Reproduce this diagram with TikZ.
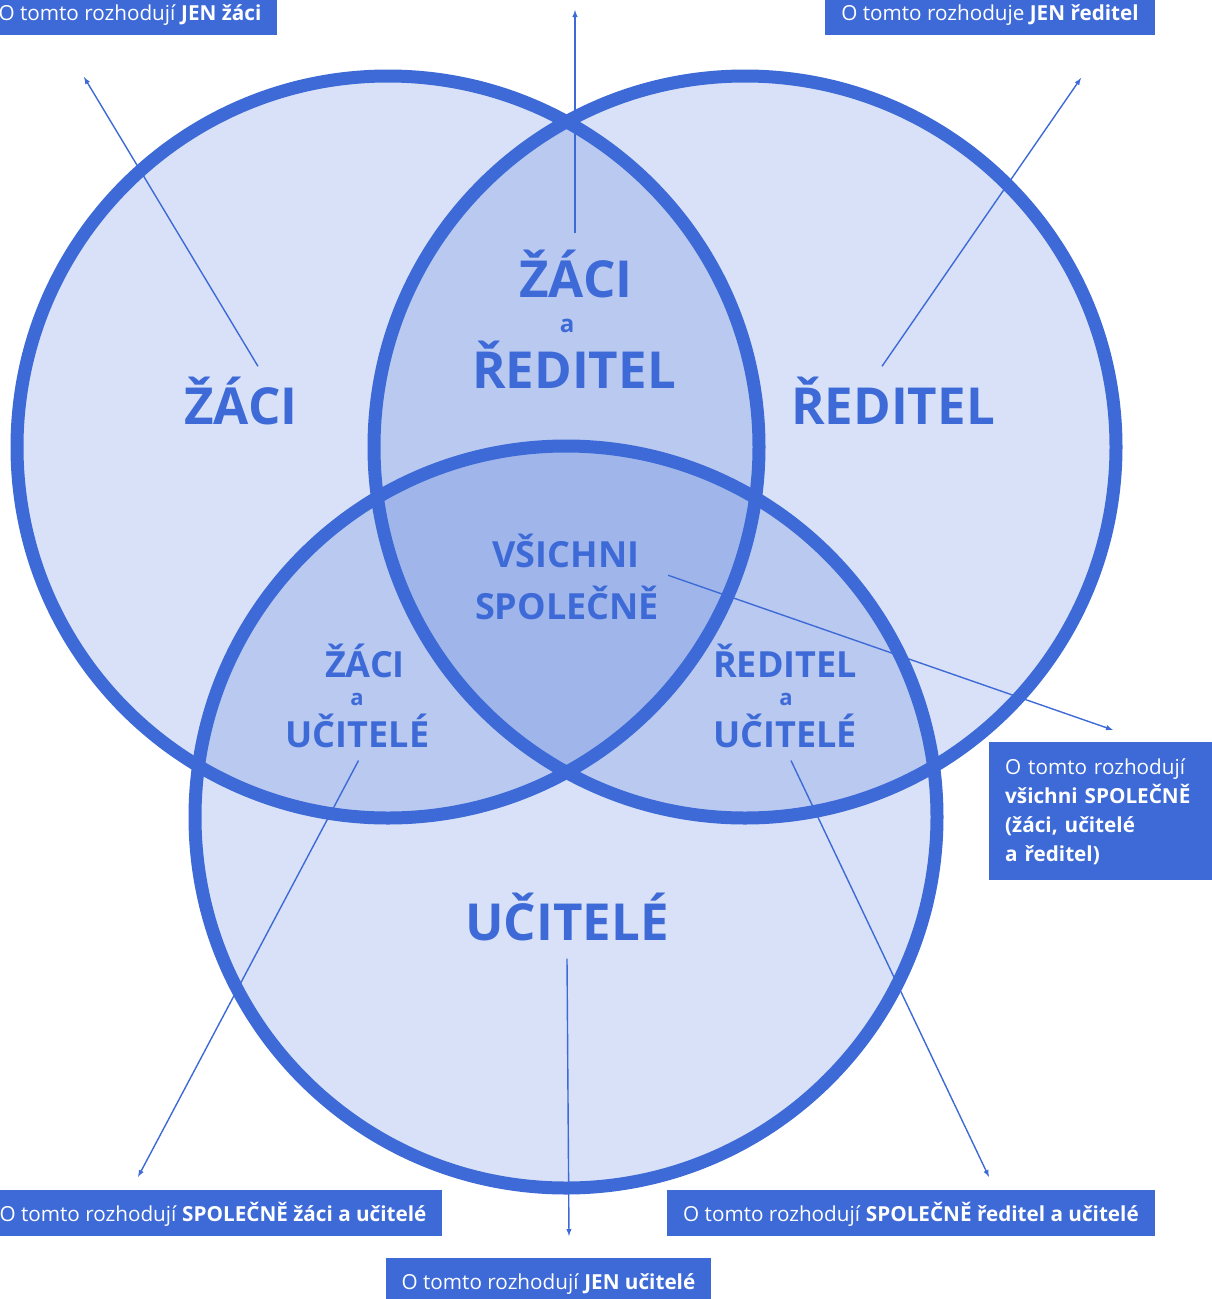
\documentclass[tikz,border=0pt]{standalone}
\usepackage{fontspec}
\setmainfont{Open Sans}
\usetikzlibrary{shapes,arrows}
\definecolor{venn}{HTML}{3D6AD6}

\begin{document}
\begin{tikzpicture}[x=1pt, y=-1pt,
  big/.style={anchor=base, inner sep=0pt, text=venn, font=\fontsize{51}{51}\selectfont\bfseries},
  mid/.style={anchor=base, inner sep=0pt, text=venn, font=\fontsize{36}{36}\selectfont\bfseries},
  small/.style={anchor=base, inner sep=0pt, text=venn, font=\fontsize{22}{22}\selectfont\bfseries},
  boxbase/.style={fill=venn, text=white, inner xsep=16pt, font=\fontsize{20.7}{29}\selectfont},
  box/.style={boxbase, anchor=base, inner ysep=0pt, text height=31pt, text depth=15pt},
  pointer/.style={draw=venn, line width=1.4pt, -latex}]
	\useasboundingbox (0,0) rectangle (1212,1299);
	% the three circles
	\foreach \cx/\cy in {388/447, 745/447, 566/817}
		\fill[venn, fill opacity=.2] (\cx,\cy) circle[radius=371pt];
	\foreach \cx/\cy in {388/447, 745/447, 566/817}
		\draw[venn, line width=13pt] (\cx,\cy) circle[radius=371pt];
	% labels inside
	\node[big] (zaci) at (241,424) {ŽÁCI};
	\node[big] (reditel) at (893,424) {ŘEDITEL};
	\node[big] (ucitele) at (567,940) {UČITELÉ};
	\node[big] (zrZaci) at (576,297) {ŽÁCI};
	\node[small, font=\fontsize{24}{24}\selectfont\bfseries] (zrA) at (567,332) {a};
	\node[big] (zrReditel) at (574,388) {ŘEDITEL};
	\node[mid] (vsichni) at (566,567) {VŠICHNI};
	\node[mid] (spolecne) at (567,619) {SPOLEČNĚ};
	\node[mid] (zuZaci) at (365,677) {ŽÁCI};
	\node[small] (zuA) at (357,705) {a};
	\node[mid] (zuUcitele) at (357.5,747) {UČITELÉ};
	\node[mid] (ruReditel) at (785,677) {ŘEDITEL};
	\node[small] (ruA) at (786,705) {a};
	\node[mid] (ruUcitele) at (785,747) {UČITELÉ};
	% boxes
	\node[box] (jenZaci) at (130,20) {O tomto rozhodují \textbf{JEN žáci}};
	\node[box] (jenReditel) at (990,20) {O tomto rozhoduje \textbf{JEN ředitel}};
	\node[boxbase, anchor=north west, align=left, text width=191pt, inner ysep=16pt] (vsichniBox) at (989,742)
		{O tomto rozhodují\\ \textbf{všichni SPOLEČNĚ}\\ \textbf{(žáci, učitelé}\\ \textbf{a ředitel)}};
	\node[box] (spolZU) at (213,1221) {O tomto rozhodují \textbf{SPOLEČNĚ žáci a učitelé}};
	\node[box] (spolRU) at (911,1221) {O tomto rozhodují \textbf{SPOLEČNĚ ředitel a učitelé}};
	\node[box] (jenUcitele) at (548.5,1289) {O tomto rozhodují \textbf{JEN učitelé}};
	% pointers
	\coordinate (tipZaci) at (84,77);
	\coordinate (tipZR) at (575,10);
	\coordinate (tipReditel) at (1081,78);
	\coordinate (tipVsichni) at (1113,730);
	\coordinate (tipZU) at (138,1177);
	\coordinate (tipUcitele) at (569,1236);
	\coordinate (tipRU) at (989,1177);
	\draw[pointer] ([xshift=17pt,yshift=10pt]zaci.north) -- (tipZaci);
	\draw[pointer] ([xshift=-1pt,yshift=16pt]zrZaci.north) -- (tipZR);
	\draw[pointer] ([xshift=-11pt,yshift=10pt]reditel.north) -- (tipReditel);
	\draw[pointer] ([xshift=9pt,yshift=10pt]spolecne.north east) -- (tipVsichni);
	\draw[pointer] ([xshift=1pt,yshift=-13pt]zuUcitele.south) -- (tipZU);
	\draw[pointer] ([yshift=-18pt]ucitele.south) -- (tipUcitele);
	\draw[pointer] ([xshift=6pt,yshift=-13pt]ruUcitele.south) -- (tipRU);
\end{tikzpicture}
\end{document}
